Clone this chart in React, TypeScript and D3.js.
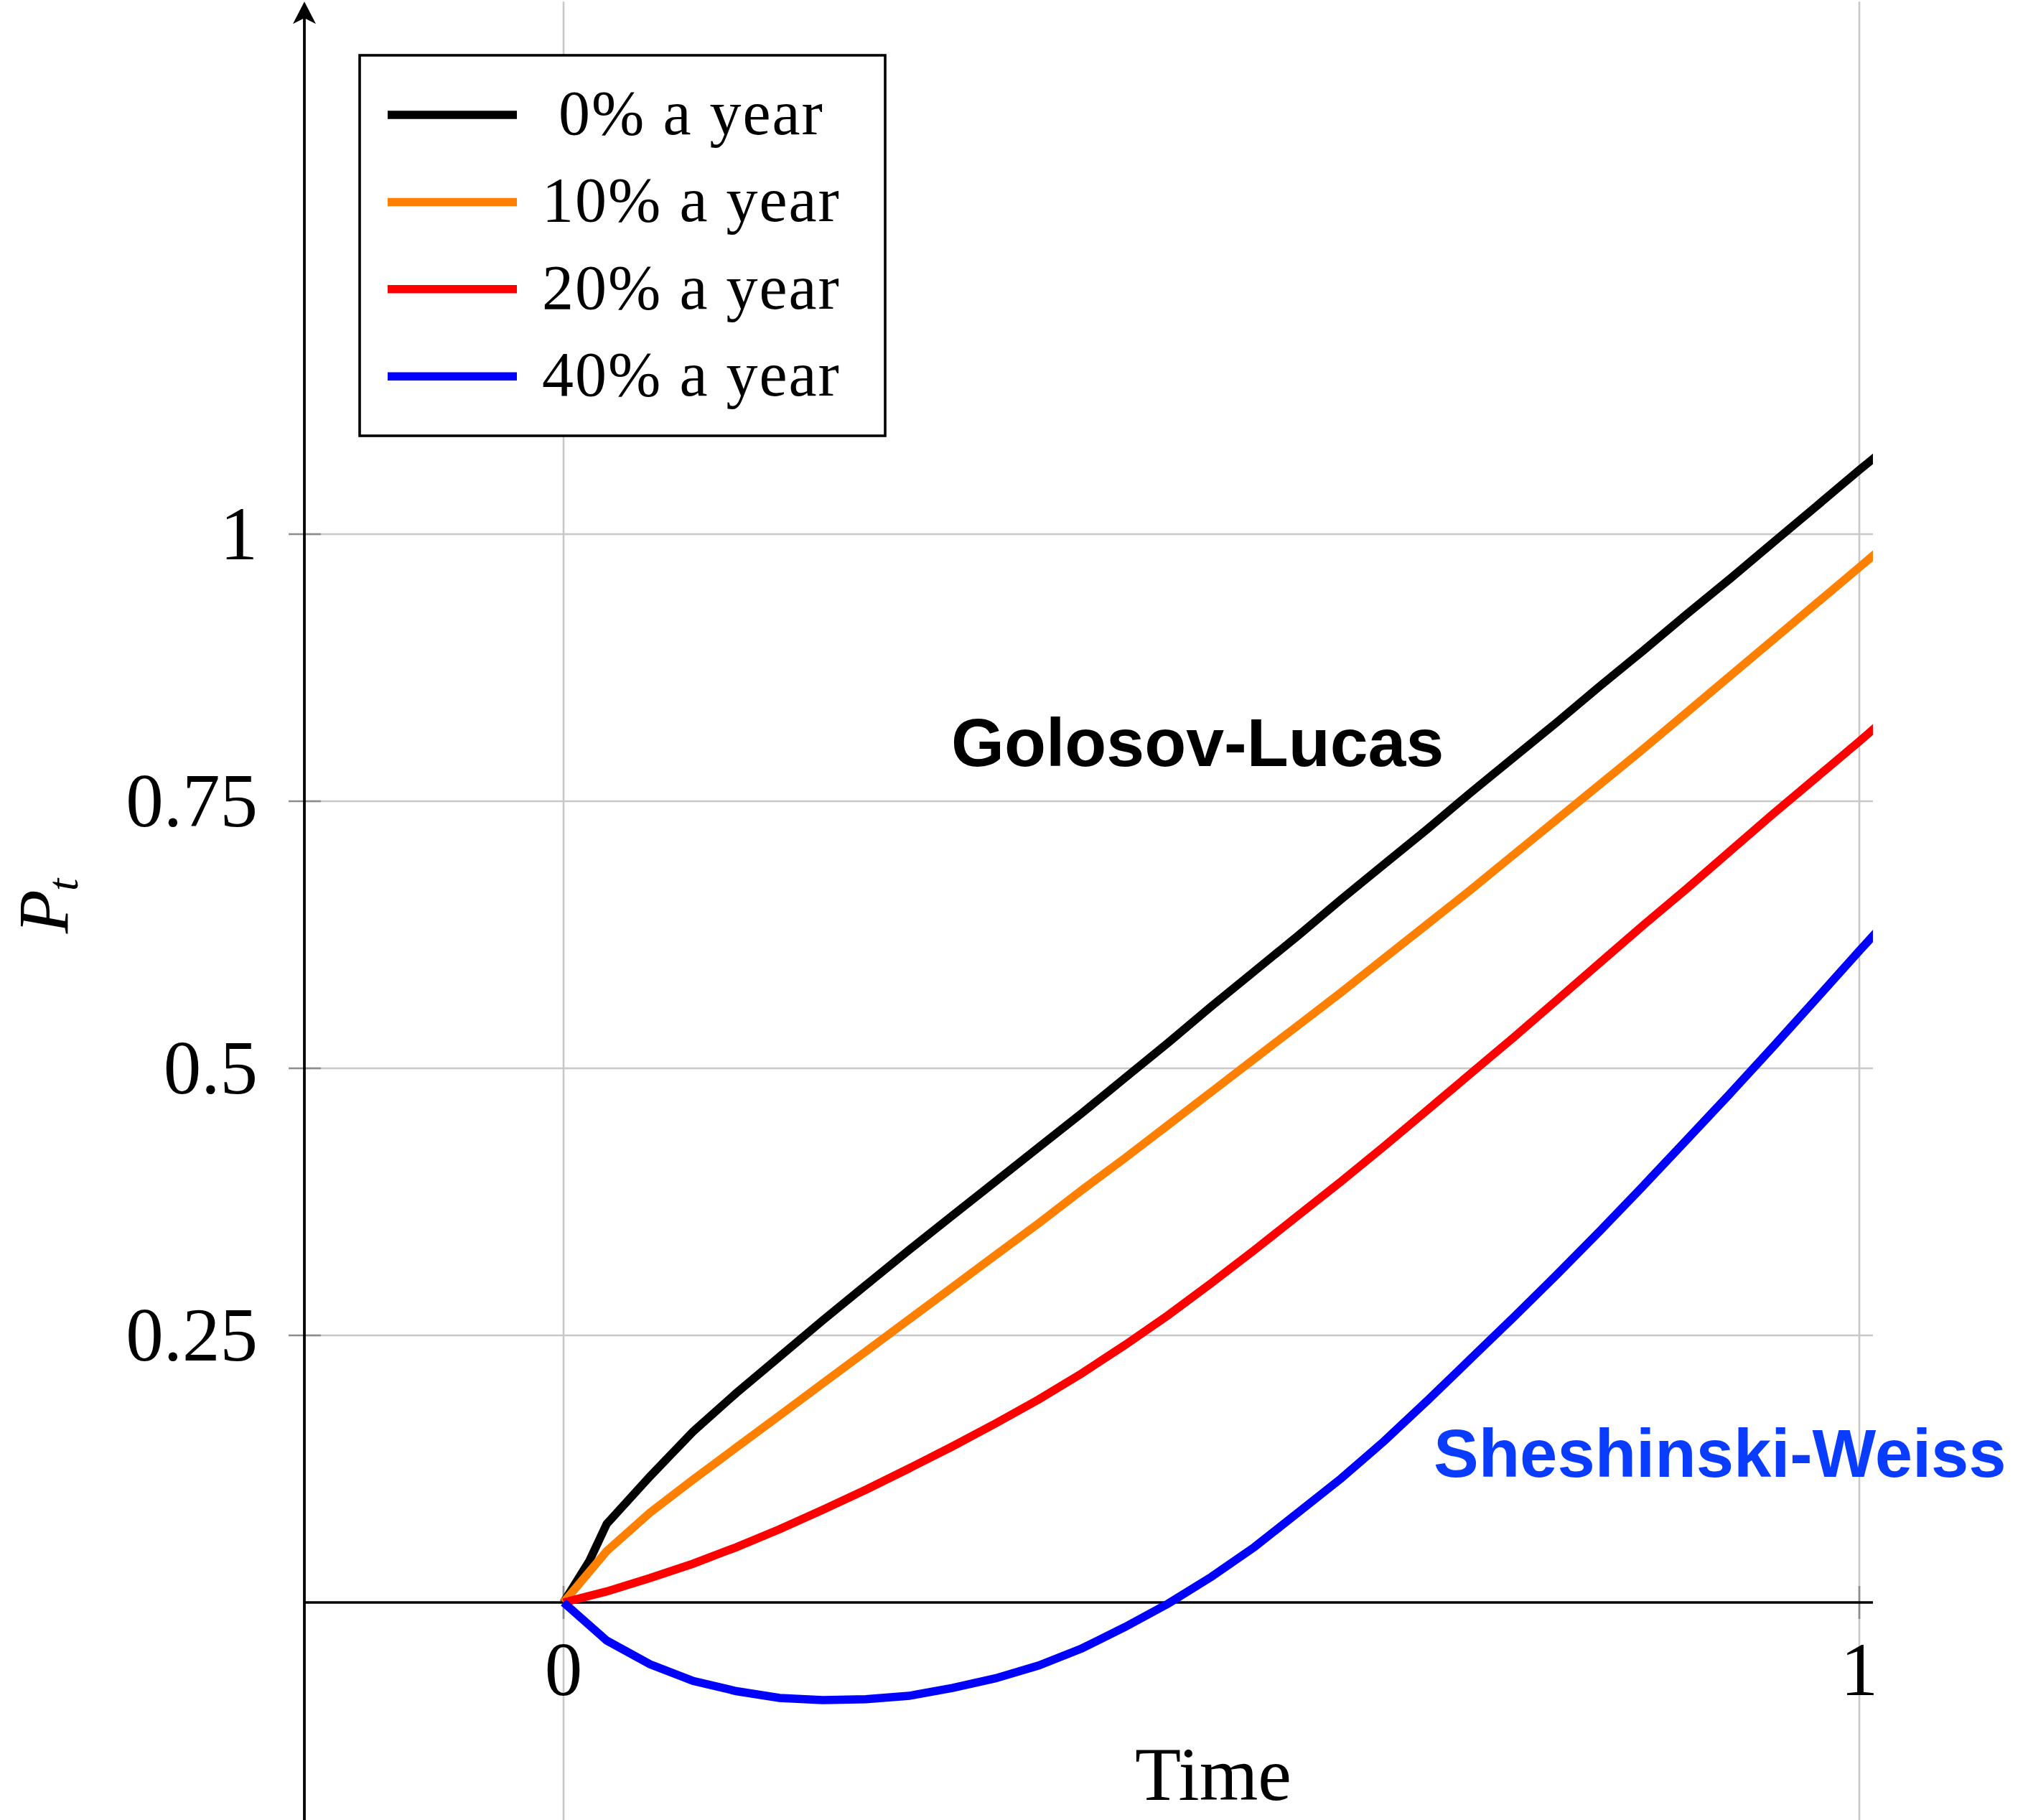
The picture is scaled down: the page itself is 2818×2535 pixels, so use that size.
import React from 'react';
import * as d3 from 'd3';

// sample times (k/30), shared by all curves
const times = [0, 0.0333, 0.0667, 0.1, 0.1333, 0.1667, 0.2, 0.2333, 0.2667, 0.3, 0.3333, 0.3667, 0.4, 0.4333, 0.4667, 0.5,
  0.5333, 0.5667, 0.6, 0.6333, 0.6667, 0.7, 0.7333, 0.7667, 0.8, 0.8333, 0.8667, 0.9, 0.9333, 0.9667, 1, 1.0333];
// the 0% curve has one extra early sample
const blackTimes = [0, 0.02, ...times.slice(1)];

const black = [0, 0.039, 0.0735, 0.118, 0.16, 0.196, 0.23, 0.264, 0.297, 0.33, 0.362, 0.394, 0.426, 0.458, 0.491, 0.524, 0.558,
  0.591, 0.624, 0.658, 0.691, 0.724, 0.758, 0.791, 0.824, 0.858, 0.891, 0.925, 0.958, 0.992, 1.026, 1.06, 1.093];
const orange = [0, 0.048, 0.084, 0.115, 0.145, 0.175, 0.205, 0.235, 0.265, 0.295, 0.325, 0.355, 0.386, 0.416, 0.447, 0.478,
  0.509, 0.54, 0.571, 0.603, 0.635, 0.667, 0.7, 0.733, 0.766, 0.799, 0.833, 0.867, 0.901, 0.935, 0.969, 1.003];
const red = [0, 0.0103, 0.0228, 0.0363, 0.0517, 0.0685, 0.0867, 0.1055, 0.1255, 0.146, 0.1675, 0.19, 0.2145, 0.241, 0.269, 0.299,
  0.33, 0.362, 0.394, 0.427, 0.461, 0.495, 0.529, 0.564, 0.599, 0.634, 0.668, 0.703, 0.738, 0.772, 0.806, 0.841];
const blue = [0, -0.0356, -0.0578, -0.0735, -0.083, -0.0894, -0.0914, -0.0905, -0.0874, -0.08, -0.071, -0.059, -0.043, -0.023, -0.001, 0.024,
  0.052, 0.084, 0.116, 0.151, 0.189, 0.228, 0.267, 0.307, 0.348, 0.39, 0.433, 0.476, 0.52, 0.565, 0.61, 0.654];

const legendLabels = ['0% a year', '10% a year', '20% a year', '40% a year'];
const seriesColors = ['#000000', '#ff8000', '#ff0000', '#0000ff'];
const yTicks = [0.25, 0.5, 0.75, 1];
const yTickLabels = ['0.25', '0.5', '0.75', '1'];
const xTicks = [0, 1];
const xTickLabels = ['0', '1'];

const W = 2818;
const H = 2535;
const serif = '"Liberation Serif", "DejaVu Serif", serif';
const sans = '"Liberation Sans", Arial, sans-serif';

export default function App() {
  const x = d3.scaleLinear().domain([0, 1]).range([785, 2590]);
  const y = d3.scaleLinear().domain([0, 1]).range([2232, 744]);
  const xMin = -0.2, xMax = 1.0105, yMin = -0.205, yMax = 1.4985;

  const series = [
    { t: blackTimes, v: black },
    { t: times, v: orange },
    { t: times, v: red },
    { t: times, v: blue },
  ];

  const line = d3.line<[number, number]>()
    .x(d => x(d[0]))
    .y(d => y(d[1]));

  const axisX = x(xMin);
  const tipY = y(yMax);

  return (
    <svg width={W} height={H} style={{ position: 'absolute', left: 0, top: 0, background: '#fff' }}>
      <defs>
        <clipPath id="plot">
          <rect x={x(xMin)} y={y(yMax)} width={x(xMax) - x(xMin)} height={y(yMin) - y(yMax)} />
        </clipPath>
      </defs>

      {/* grid */}
      {xTicks.map(t => (
        <line key={'gx' + t} x1={x(t)} x2={x(t)} y1={y(yMax)} y2={y(yMin)} stroke="#c8c8c8" strokeWidth={2.6} />
      ))}
      {yTicks.map(t => (
        <line key={'gy' + t} x1={axisX} x2={x(xMax)} y1={y(t)} y2={y(t)} stroke="#c8c8c8" strokeWidth={2.6} />
      ))}

      {/* ticks */}
      {xTicks.map(t => (
        <line key={'tx' + t} x1={x(t)} x2={x(t)} y1={y(0) - 23} y2={y(0) + 23} stroke="#8c8c8c" strokeWidth={2.6} />
      ))}
      {yTicks.map(t => (
        <line key={'ty' + t} x1={axisX - 22} x2={axisX + 23} y1={y(t)} y2={y(t)} stroke="#8c8c8c" strokeWidth={2.6} />
      ))}

      {/* axes */}
      <line x1={axisX} x2={x(xMax)} y1={y(0)} y2={y(0)} stroke="#000" strokeWidth={3.6} />
      <line x1={axisX} x2={axisX} y1={y(yMin)} y2={tipY + 20} stroke="#000" strokeWidth={3.8} />
      <path d={`M${axisX},${tipY} L${axisX - 16},${tipY + 31} L${axisX},${tipY + 23} L${axisX + 16},${tipY + 31} Z`} fill="#000" />

      {/* curves */}
      <g clipPath="url(#plot)">
        {series.map((s, i) => (
          <path key={i} d={line(s.t.map((t, j) => [t, s.v[j]] as [number, number])) || ''}
            fill="none" stroke={seriesColors[i]} strokeWidth={11.5} strokeLinejoin="miter" />
        ))}
      </g>

      {/* tick labels */}
      {yTicks.map((t, i) => (
        <text key={'ly' + t} x={359} y={y(t) + 35} textAnchor="end" fontFamily={serif} fontSize={105}>{yTickLabels[i]}</text>
      ))}
      {xTicks.map((t, i) => (
        <text key={'lx' + t} x={x(t)} y={2361} textAnchor="middle" fontFamily={serif} fontSize={105}>{xTickLabels[i]}</text>
      ))}

      {/* axis labels */}
      <text x={1690} y={2507} textAnchor="middle" fontFamily={serif} fontSize={105}>Time</text>
      <text transform="translate(94,1262) rotate(-90)" textAnchor="middle" fontFamily={serif} fontSize={100}>
        <tspan fontStyle="italic">P</tspan>
        <tspan fontStyle="italic" fontSize={62} dx={-2} dy={14}>t</tspan>
      </text>

      {/* annotations */}
      <text x={1325} y={1067} fontFamily={sans} fontWeight="bold" fontSize={95} fill="#000">Golosov-Lucas</text>
      <text x={1997} y={2057} fontFamily={sans} fontWeight="bold" fontSize={94} fill="#0a3cff">Sheshinski-Weiss</text>

      {/* legend */}
      <g>
        <rect x={501} y={77} width={732} height={530} fill="#fff" stroke="#000" strokeWidth={3.6} />
        {legendLabels.map((lab, i) => {
          const ly = 160 + i * 121.4;
          return (
            <g key={lab}>
              <line x1={540} x2={720} y1={ly} y2={ly} stroke={seriesColors[i]} strokeWidth={11.5} />
              <text x={963} y={ly + 27} textAnchor="middle" fontFamily={serif} fontSize={88} letterSpacing={2}>{lab}</text>
            </g>
          );
        })}
      </g>
    </svg>
  );
}
